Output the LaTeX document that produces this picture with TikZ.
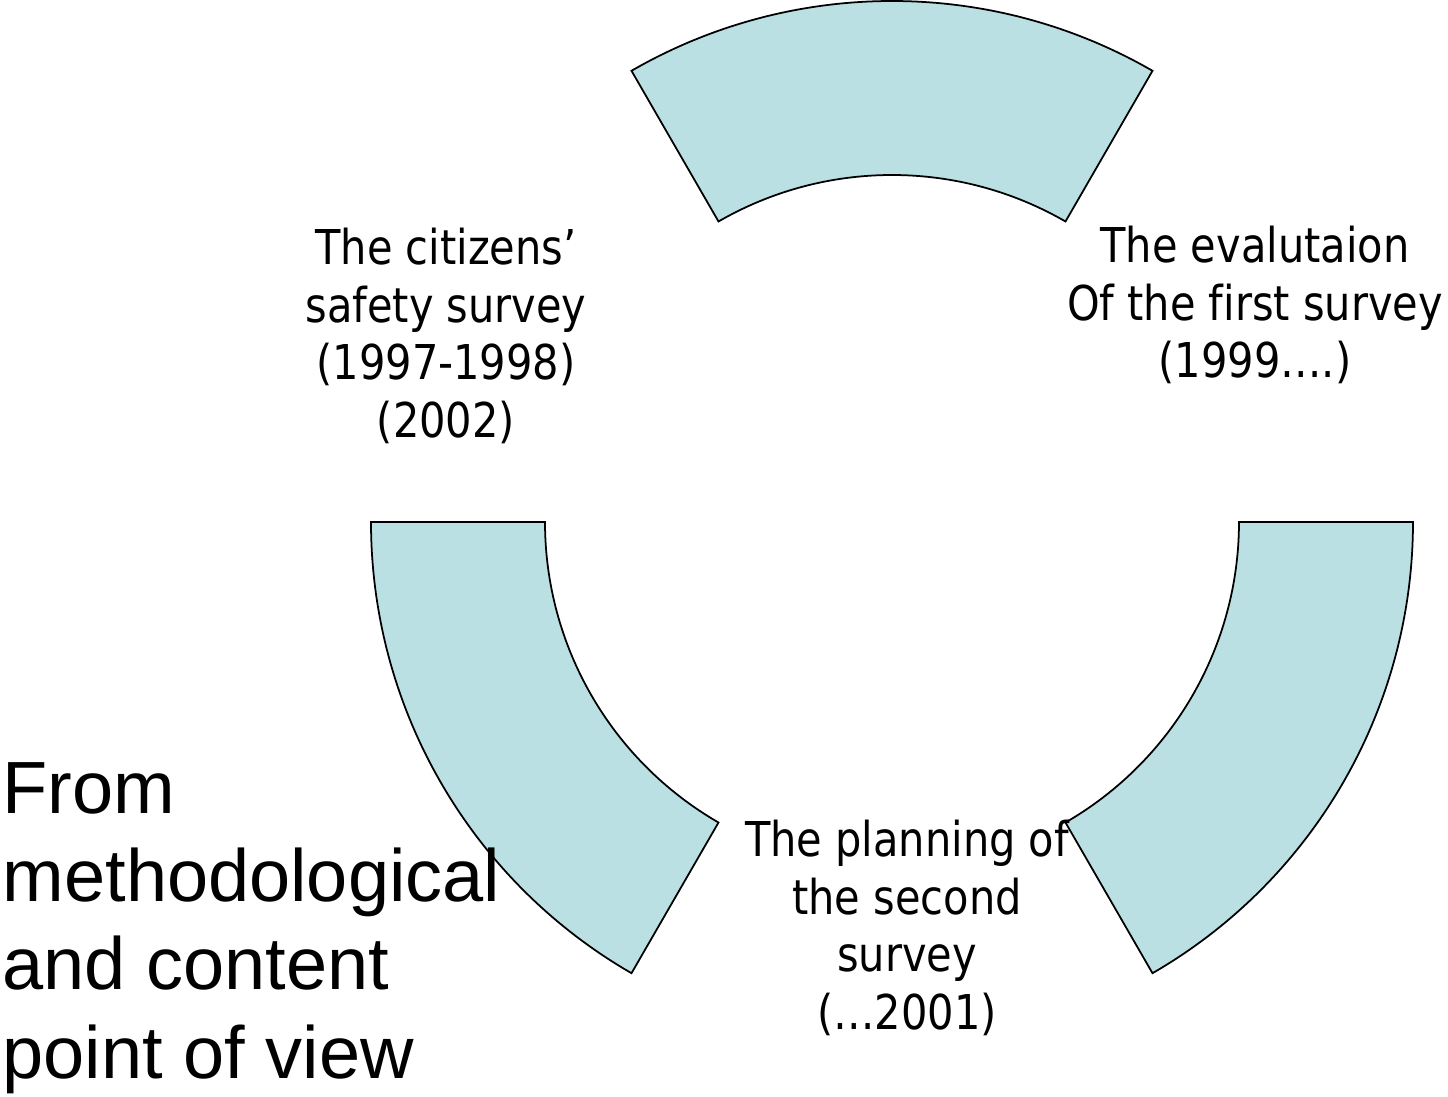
\documentclass[tikz,border=0pt]{standalone}
\usepackage{fontspec}
\usepackage{xcolor}
\usepackage{tikz}
\usetikzlibrary{positioning}
\newfontfamily\tahomalike[FakeStretch=0.865, Ligatures=NoCommon]{DejaVu Sans}
\newfontfamily\ariallike{Liberation Sans}
\definecolor{sectorfill}{RGB}{186,224,227}

\begin{document}
\begin{tikzpicture}[
        sector/.style = {draw = black, line width = 0.5pt, fill = sectorfill},
        steplabel/.style = {align = center, inner sep = 0pt, anchor = base,
            font = \tahomalike\fontsize{13.66pt}{16.4pt}\selectfont},
        sidelabel/.style = {align = left, inner sep = 0pt, anchor = base west,
            font = \ariallike\fontsize{21.05pt}{25.1pt}\selectfont}]
        \useasboundingbox (0, 0) rectangle (14.48, 10.96);
        \coordinate (c) at (8.92, 5.74);

        \filldraw[sector] ([shift = {(60:5.21)}]c) arc[start angle = 60, end angle = 120, radius = 5.21]
            -- ([shift = {(120:3.47)}]c) arc[start angle = 120, end angle = 60, radius = 3.47] -- cycle;
        \filldraw[sector] ([shift = {(180:5.21)}]c) arc[start angle = 180, end angle = 240, radius = 5.21]
            -- ([shift = {(240:3.47)}]c) arc[start angle = 240, end angle = 180, radius = 3.47] -- cycle;
        \filldraw[sector] ([shift = {(300:5.21)}]c) arc[start angle = 300, end angle = 360, radius = 5.21]
            -- ([shift = {(0:3.47)}]c) arc[start angle = 360, end angle = 300, radius = 3.47] -- cycle;

        \node[steplabel] (survey) at (4.46, 6.585) {The citizens’\\safety survey\\(1997-1998)\\(2002)};
        \node[steplabel] (evaluation) at (12.55, 7.18) {The evalutaion\\Of the first survey\\(1999….)};
        \node[steplabel] (planning) at (9.07, 0.665) {The planning of\\the second\\survey\\(…2001)};

        \node[sidelabel] (viewpoint) at (0.02, 0.18) {From\\methodological\\and content\\point of view};
    \end{tikzpicture}
\end{document}
